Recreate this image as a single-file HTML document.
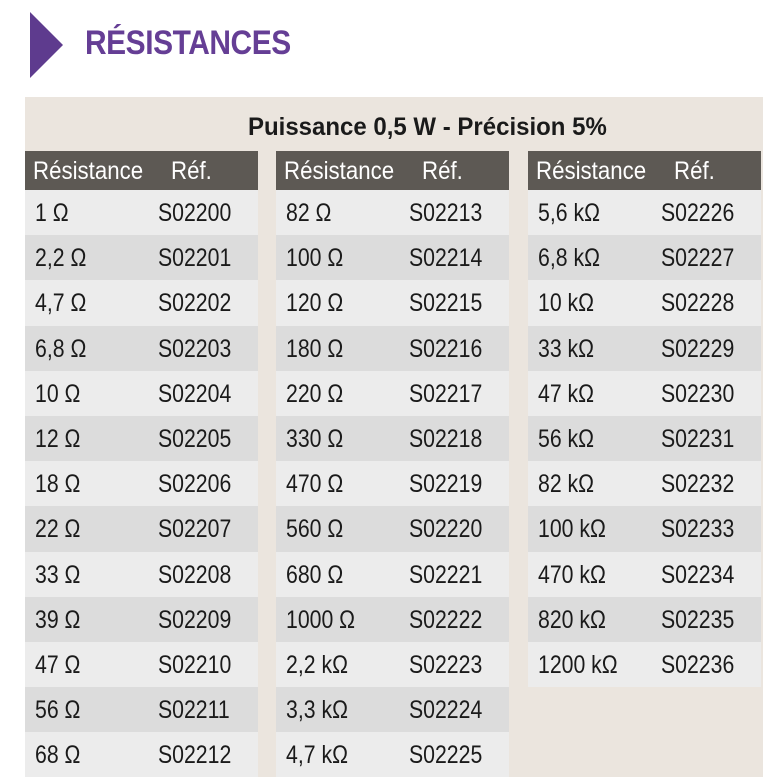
<!DOCTYPE html>
<html><head><meta charset="utf-8"><style>
body{margin:0;width:779px;height:777px;background:#fff;position:relative;overflow:hidden;font-family:"Liberation Sans Narrow","Liberation Sans",sans-serif;}
span,div.title,div.sub{transform-origin:left center;}
.tri{position:absolute;left:30px;top:12px;width:0;height:0;border-top:33px solid transparent;border-bottom:33px solid transparent;border-left:33px solid #5e3b8e;}
.title{position:absolute;left:85px;top:24px;font-size:34px;font-weight:bold;color:#653e95;letter-spacing:-0.5px;transform:scaleX(0.88);}
.panel{position:absolute;left:25px;top:97px;width:738px;height:680px;background:#ebe5de;}
.sub{position:absolute;left:248px;top:113px;font-size:25px;font-weight:bold;color:#1a1a1a;transform:scaleX(0.96);}
.col{position:absolute;top:151px;width:233px;}
.hd{height:39px;background:#5d5954;color:#fff;font-size:25px;position:relative;}
.r{height:45.2px;position:relative;font-size:25px;color:#1a1a1a;}
.r:nth-child(even){background:#ececec}
.r:nth-child(odd){background:#dcdcdc}
.a,.b{position:absolute;top:9px;transform:scaleX(0.85);white-space:nowrap}
.a{left:10px}
.b{left:133px}
.hd .a,.hd .b{top:6px;transform:scaleX(0.89)}
.hd .a{left:8px}.hd .b{left:146px}
</style></head><body>
<div class="tri"></div>
<div class="title">RÉSISTANCES</div>
<div class="panel"></div>
<div class="sub">Puissance 0,5 W - Précision 5%</div>
<div class="col" style="left:25px">
<div class="hd"><span class="a">Résistance</span><span class="b">Réf.</span></div>
<div class="r"><span class="a">1 Ω</span><span class="b">S02200</span></div>
<div class="r"><span class="a">2,2 Ω</span><span class="b">S02201</span></div>
<div class="r"><span class="a">4,7 Ω</span><span class="b">S02202</span></div>
<div class="r"><span class="a">6,8 Ω</span><span class="b">S02203</span></div>
<div class="r"><span class="a">10 Ω</span><span class="b">S02204</span></div>
<div class="r"><span class="a">12 Ω</span><span class="b">S02205</span></div>
<div class="r"><span class="a">18 Ω</span><span class="b">S02206</span></div>
<div class="r"><span class="a">22 Ω</span><span class="b">S02207</span></div>
<div class="r"><span class="a">33 Ω</span><span class="b">S02208</span></div>
<div class="r"><span class="a">39 Ω</span><span class="b">S02209</span></div>
<div class="r"><span class="a">47 Ω</span><span class="b">S02210</span></div>
<div class="r"><span class="a">56 Ω</span><span class="b">S02211</span></div>
<div class="r"><span class="a">68 Ω</span><span class="b">S02212</span></div>
</div>
<div class="col" style="left:276px">
<div class="hd"><span class="a">Résistance</span><span class="b">Réf.</span></div>
<div class="r"><span class="a">82 Ω</span><span class="b">S02213</span></div>
<div class="r"><span class="a">100 Ω</span><span class="b">S02214</span></div>
<div class="r"><span class="a">120 Ω</span><span class="b">S02215</span></div>
<div class="r"><span class="a">180 Ω</span><span class="b">S02216</span></div>
<div class="r"><span class="a">220 Ω</span><span class="b">S02217</span></div>
<div class="r"><span class="a">330 Ω</span><span class="b">S02218</span></div>
<div class="r"><span class="a">470 Ω</span><span class="b">S02219</span></div>
<div class="r"><span class="a">560 Ω</span><span class="b">S02220</span></div>
<div class="r"><span class="a">680 Ω</span><span class="b">S02221</span></div>
<div class="r"><span class="a">1000 Ω</span><span class="b">S02222</span></div>
<div class="r"><span class="a">2,2 kΩ</span><span class="b">S02223</span></div>
<div class="r"><span class="a">3,3 kΩ</span><span class="b">S02224</span></div>
<div class="r"><span class="a">4,7 kΩ</span><span class="b">S02225</span></div>
</div>
<div class="col" style="left:528px">
<div class="hd"><span class="a">Résistance</span><span class="b">Réf.</span></div>
<div class="r"><span class="a">5,6 kΩ</span><span class="b">S02226</span></div>
<div class="r"><span class="a">6,8 kΩ</span><span class="b">S02227</span></div>
<div class="r"><span class="a">10 kΩ</span><span class="b">S02228</span></div>
<div class="r"><span class="a">33 kΩ</span><span class="b">S02229</span></div>
<div class="r"><span class="a">47 kΩ</span><span class="b">S02230</span></div>
<div class="r"><span class="a">56 kΩ</span><span class="b">S02231</span></div>
<div class="r"><span class="a">82 kΩ</span><span class="b">S02232</span></div>
<div class="r"><span class="a">100 kΩ</span><span class="b">S02233</span></div>
<div class="r"><span class="a">470 kΩ</span><span class="b">S02234</span></div>
<div class="r"><span class="a">820 kΩ</span><span class="b">S02235</span></div>
<div class="r"><span class="a">1200 kΩ</span><span class="b">S02236</span></div>
</div>
</body></html>
